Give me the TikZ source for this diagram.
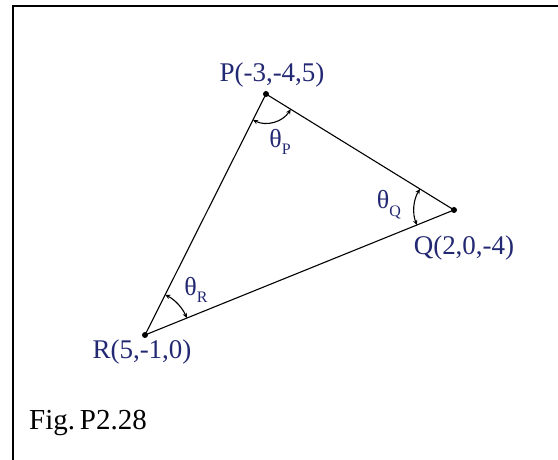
\documentclass[tikz,border=0pt]{standalone}
\usepackage{fontspec}
\setmainfont{Liberation Serif}
\usetikzlibrary{arrows.meta, angles}
\definecolor{navy}{RGB}{35,40,115}
\newcommand{\angsub}[1]{\raisebox{-0.3em}{\fontsize{16}{16}\selectfont #1}}
\tikzset{
    dot/.style={circle, fill=black, inner sep=0pt, minimum size=6pt},
    ptlabel/.style={text=navy, inner sep=0pt, font=\fontsize{27}{30}\selectfont},
    anglabel/.style={text=navy, inner sep=0pt, font=\fontsize{26}{28}\selectfont},
    anglearc/.style={draw, line width=1.1pt, {Stealth[length=5pt,width=4.5pt]}-{Stealth[length=5pt,width=4.5pt]}}
}

\begin{document}
\begin{tikzpicture}[x=1pt, y=1pt]
  \useasboundingbox (0,0) rectangle (558,460);
  \draw[line width=2.2pt] (13,0) -- (13,454) -- (558,454);
  \node[dot] (P) at (266, 366) {};
  \node[dot] (Q) at (454, 250) {};
  \node[dot] (R) at (145, 125) {};
  \draw[line width=1.1pt] (P.center) -- (Q.center) -- (R.center) -- cycle;
  \coordinate (p) at (P.center);
  \coordinate (q) at (Q.center);
  \coordinate (r) at (R.center);
  \pic[anglearc, angle radius=29pt] {angle = r--p--q};
  \pic[anglearc, angle radius=40pt] {angle = p--q--r};
  \pic[anglearc, angle radius=45pt] {angle = q--r--p};
  \node[ptlabel] (lP) at (272, 385) {P(-3,-4,5)};
  \node[ptlabel] (lQ) at (464, 212) {Q(2,0,-4)};
  \node[ptlabel] (lR) at (142, 108) {R(5,-1,0)};
  \node[anglabel] (tP) at (280, 318) {θ\angsub{P}};
  \node[anglabel] (tQ) at (389, 255) {θ\angsub{Q}};
  \node[anglabel] (tR) at (196, 170) {θ\angsub{R}};
  \node[anchor=base west, inner sep=0pt, font=\fontsize{29}{31}\selectfont] (fig) at (29, 30) {Fig.\,P2.28};
\end{tikzpicture}
\end{document}
